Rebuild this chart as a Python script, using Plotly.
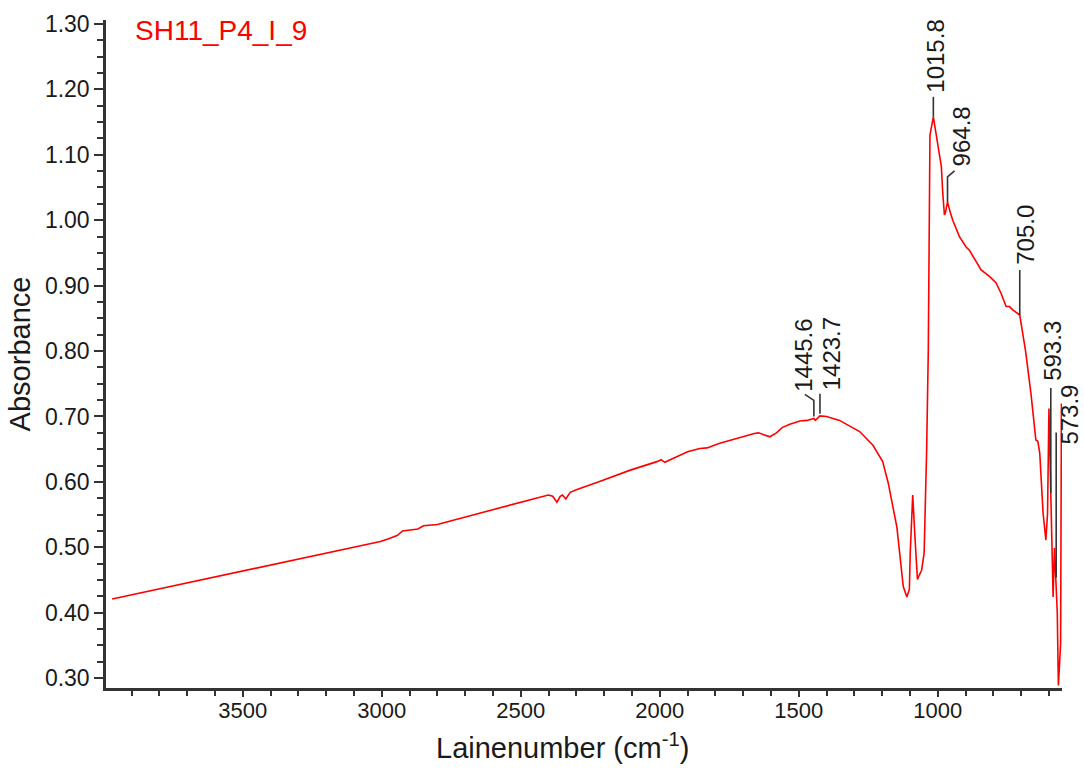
import numpy as np
import plotly.graph_objects as go

# ---------------- data ----------------
wavenumber = [
    3970, 3005, 2975, 2945, 2925, 2900, 2870, 2850, 2820, 2800,
    2401, 2385, 2370, 2358, 2350, 2338, 2322, 2300, 2214, 2106,
    2010, 1995, 1982, 1960, 1928, 1900, 1856, 1830, 1784, 1712,
    1660, 1645, 1625, 1604, 1580, 1560, 1532, 1496, 1470, 1449,
    1445.6, 1440, 1430, 1423.7, 1400, 1353, 1281, 1233, 1198, 1178,
    1147, 1124, 1111, 1102, 1099, 1090, 1082, 1073, 1066, 1058,
    1049, 1040, 1034, 1028, 1015.8, 999, 987, 982, 976, 972,
    964.8, 955, 946, 922, 898, 886, 868, 844, 814, 790,
    772, 754, 742, 730, 705.0, 694, 684, 665, 647, 640,
    633, 629, 621, 611, 605, 600, 596, 593.3, 589, 585,
    580, 577, 573.9, 570, 566, 562, 558, 555,
]
absorbance = [
    0.421, 0.509, 0.513, 0.518, 0.525, 0.526, 0.528, 0.533, 0.534, 0.535,
    0.580, 0.578, 0.569, 0.578, 0.580, 0.574, 0.584, 0.588, 0.601, 0.618,
    0.631, 0.634, 0.630, 0.634, 0.641, 0.646, 0.651, 0.652, 0.659, 0.668,
    0.674, 0.675, 0.672, 0.669, 0.675, 0.683, 0.688, 0.693, 0.694, 0.697,
    0.697, 0.694, 0.698, 0.701, 0.700, 0.694, 0.677, 0.656, 0.631, 0.598,
    0.531, 0.440, 0.424, 0.436, 0.491, 0.580, 0.516, 0.451, 0.458, 0.465,
    0.491, 0.647, 0.800, 1.130, 1.158, 1.112, 1.082, 1.042, 1.008, 1.012,
    1.028, 1.012, 1.000, 0.975, 0.959, 0.954, 0.942, 0.924, 0.914, 0.904,
    0.888, 0.868, 0.868, 0.863, 0.855, 0.827, 0.800, 0.736, 0.664, 0.662,
    0.644, 0.613, 0.552, 0.511, 0.552, 0.712, 0.620, 0.583, 0.470, 0.424,
    0.499, 0.470, 0.454, 0.400, 0.289, 0.330, 0.353, 0.720,
]

peak_wn = [1445.6, 1423.7, 1015.8, 964.8, 705.0, 593.3, 573.9]
peak_text = ["1445.6", "1423.7", "1015.8", "964.8", "705.0", "593.3", "573.9"]

x_tick_vals = [3500, 3000, 2500, 2000, 1500, 1000]
y_tick_vals = [0.30, 0.40, 0.50, 0.60, 0.70, 0.80, 0.90, 1.00, 1.10, 1.20, 1.30]
sample_name = "SH11_P4_I_9"

# ---------------- styling of the peak markers (pixel offsets) ----------------
leader_paths = {
    "1445.6": "M0,2 L0,18 L-9,24",
    "1423.7": "M0,2 L0,22",
    "1015.8": "M0,0 L0,20",
    "964.8": "M0,0 L0,25 L7,31",
    "705.0": "M0,0 L0,45",
    "593.3": "M0,0 L0,105",
    "573.9": "M0,0 L0,145",
}
label_shift = {  # (xshift, yshift) of the text bottom, pixels
    "1445.6": (-10, 25),
    "1423.7": (11, 24),
    "1015.8": (2, 22),
    "964.8": (14, 33),
    "705.0": (5, 48),
    "593.3": (1, 110),
    "573.9": (13, 131),
}

FONT = "Arial, 'Liberation Sans', sans-serif"

wn_arr = np.array(wavenumber, dtype=float)
ab_arr = np.array(absorbance, dtype=float)
order = np.argsort(wn_arr)
peak_abs = np.interp(peak_wn, wn_arr[order], ab_arr[order])

fig = go.Figure()
fig.add_trace(go.Scatter(
    x=wavenumber, y=absorbance, mode="lines",
    line=dict(color="#ff0000", width=1.6),
    showlegend=False, hoverinfo="x+y",
))

shapes = []
annotations = []
for wn, ab, txt in zip(peak_wn, peak_abs, peak_text):
    shapes.append(dict(
        type="path", xref="x", yref="y",
        xsizemode="pixel", ysizemode="pixel",
        xanchor=wn, yanchor=float(ab),
        path=leader_paths[txt],
        line=dict(color="#333333", width=1.6),
    ))
    dx, dy = label_shift[txt]
    annotations.append(dict(
        x=wn, y=float(ab), xref="x", yref="y",
        text=txt, showarrow=False, textangle=-90,
        xanchor="center", yanchor="bottom",
        xshift=dx, yshift=dy,
        font=dict(family=FONT, size=24, color="#1a1a1a"),
    ))

annotations.append(dict(
    x=0.028, y=0.984, xref="paper", yref="paper",
    text=sample_name, showarrow=False,
    xanchor="left", yanchor="middle",
    font=dict(family=FONT, size=28, color="#ff0000"),
))
annotations.append(dict(
    x=0.478, y=0, xref="paper", yref="paper",
    text="Lainenumber (cm<sup>-1</sup>)", showarrow=False,
    xanchor="center", yanchor="top", yshift=-38,
    font=dict(family=FONT, size=29, color="#1a1a1a"),
))

fig.update_layout(
    width=1084, height=771,
    margin=dict(l=106, r=22, t=20, b=83),
    paper_bgcolor="white", plot_bgcolor="white",
    shapes=shapes, annotations=annotations,
    font=dict(family=FONT, color="#1a1a1a"),
)
fig.update_xaxes(
    range=[3992, 553], autorange=False,
    tickvals=x_tick_vals, ticktext=[str(v) for v in x_tick_vals],
    ticks="outside", ticklen=6, tickwidth=1.5, tickcolor="#333333",
    ticklabelstandoff=-5,
    minor=dict(dtick=100, ticks="outside", ticklen=5, tickwidth=1.5, tickcolor="#333333", showgrid=False),
    showline=True, linecolor="#333333", linewidth=2.5,
    showgrid=False, zeroline=False,
    tickfont=dict(family=FONT, size=22, color="#1a1a1a"),
)
fig.update_yaxes(
    range=[0.285, 1.306], autorange=False,
    tickvals=y_tick_vals, ticktext=["%.2f" % v for v in y_tick_vals],
    ticks="outside", ticklen=9, tickwidth=1.5, tickcolor="#333333",
    minor=dict(dtick=0.025, tick0=0.3, ticks="outside", ticklen=6, tickwidth=1.5, tickcolor="#333333", showgrid=False),
    showline=True, linecolor="#333333", linewidth=2.5,
    showgrid=False, zeroline=False,
    tickfont=dict(family=FONT, size=23, color="#1a1a1a"),
    title=dict(text="Absorbance", font=dict(family=FONT, size=29, color="#1a1a1a"), standoff=6),
)

fig.write_html("out.html")
